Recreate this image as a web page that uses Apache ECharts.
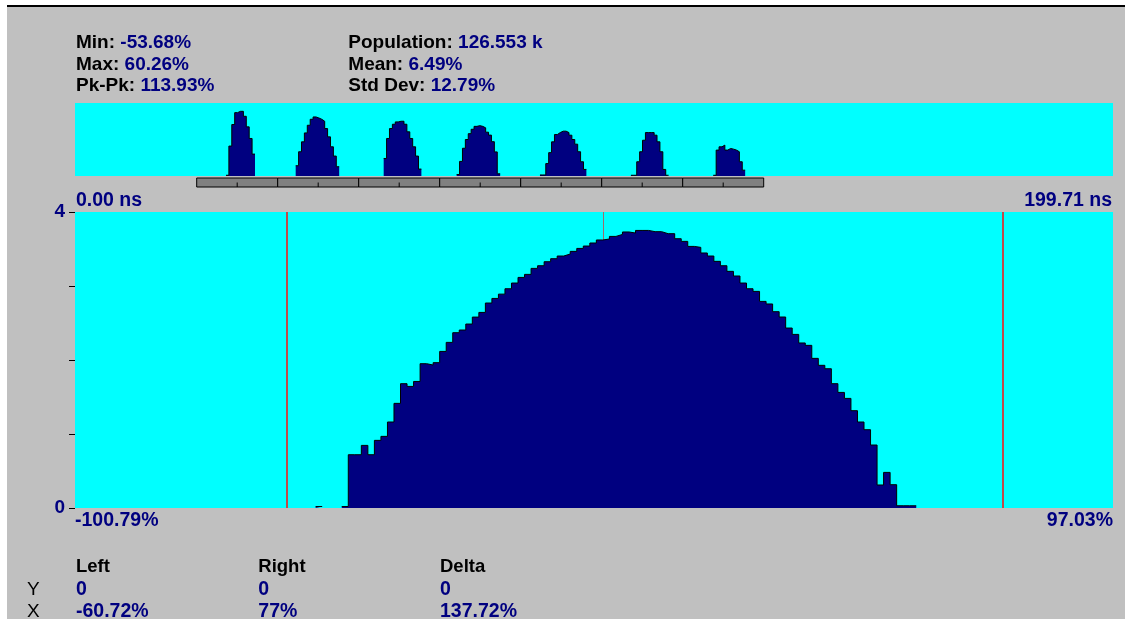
<!DOCTYPE html>
<html><head><meta charset="utf-8">
<script src="https://cdn.jsdelivr.net/npm/echarts@6/dist/echarts.min.js"></script>
<style>html,body{margin:0;padding:0;background:#fff}#c{width:1125px;height:619px}</style>
</head><body><div id="c"></div>
<script>
// ---------- data ----------
// main histogram (x in %, y in counts)
const xMin = -101.55, xMax = 98.16;
const histStart = -55.25;      // left edge of first bin (%)
const histBinWidth = 1.256;    // bin width (%)
const histCounts = [0.02,0,0,0,0.02,
  0.72,0.72,0.846,0.72,0.914,0.968,1.162,1.414,1.68,1.643,
  1.71,1.95,1.932,1.964,2.116,2.238,2.369,2.405,2.486,2.58,
  2.643,2.77,2.832,2.89,2.963,3.04,3.116,3.157,3.238,3.274,
  3.328,3.369,3.405,3.432,3.468,3.508,3.54,3.581,3.622,3.635,
  3.67,3.697,3.73,3.716,3.751,3.751,3.734,3.734,3.707,3.707,
  3.639,3.603,3.535,3.522,3.446,3.405,3.333,3.274,3.198,3.135,
  3.04,2.963,2.927,2.792,2.757,2.653,2.581,2.432,2.346,2.23,
  2.198,2.022,1.928,1.882,1.68,1.562,1.481,1.315,1.162,1.058,
  0.851,0.311,0.481,0.315,0.03,0.03,0.03];
const yTickLabels = ['0','','','','4'];
const cursorLeft = -60.72, cursorRight = 77, zeroMark = 0;

// mini (time) view, x in ns, y normalised
const miniMax = 199.71;
const miniBinWidth = 0.558;
const humpStarts = [29.05, 42.46, 59.39, 73.43, 89.46, 106.96, 122.80];
const hump1 = [0.01,0.41,0.705,0.868,0.886,0.886,0.818,0.673,0.514,0.30];
const hump2 = [0.141,0.332,0.468,0.59,0.695,0.777,0.809,0.795,0.777,0.75,0.65,0.536,0.40,0.273,0.127];
const hump3 = [0.24,0.514,0.65,0.709,0.741,0.75,0.75,0.709,0.605,0.514,0.40,0.273,0.095];
const hump4 = [0.02,0.2,0.38,0.5,0.58,0.64,0.68,0.69,0.68,0.66,0.6,0.56,0.47,0.33,0.03];
const hump5 = [0.014,0.014,0.17,0.32,0.468,0.568,0.595,0.614,0.614,0.595,0.559,0.50,0.436,0.332,0.195,0.09];
const hump6 = [0.01,0.01,0.195,0.332,0.49,0.595,0.595,0.595,0.559,0.468,0.332,0.09,0.01];
const hump7 = [0.01,0.355,0.40,0.423,0.355,0.377,0.368,0.355,0.332,0.195,0.08];
const humps = [hump1,hump2,hump3,hump4,hump5,hump6,hump7];

// text
const statLabelsA = ['Min:', 'Max:', 'Pk-Pk:'];
const statValuesA = ['-53.68%', '60.26%', '113.93%'];
const statLabelsB = ['Population:', 'Mean:', 'Std Dev:'];
const statValuesB = ['126.553 k', '6.49%', '12.79%'];
const timeLabels = ['0.00 ns', '199.71 ns'];
const pctLabels = ['-100.79%', '97.03%'];
const cursorHeads = ['Left', 'Right', 'Delta'];
const cursorRows = ['Y', 'X'];
const cursorY = ['0', '0', '0'];
const cursorX = ['-60.72%', '77%', '137.72%'];

// ---------- build ----------
function stepPoints(start, w, vals, out) {
  vals.forEach((v, i) => {
    if (v > 0) { out.push([start + i * w, v], [start + (i + 1) * w, v]); }
    else out.push([start + i * w, '-']);
  });
  return out;
}
const histPts = stepPoints(histStart, histBinWidth, histCounts, []);
const miniPts = [];
humps.forEach((h, k) => { stepPoints(humpStarts[k], miniBinWidth, h, miniPts); miniPts.push([humpStarts[k] + h.length * miniBinWidth + 0.1, '-']); });

const NAVY = '#000080', CYAN = '#00ffff';
const FF = '"Liberation Sans", Arial, sans-serif';
const graphic = [];
// window frame
graphic.push({type:'rect', shape:{x:0,y:0,width:1125,height:5}, style:{fill:'#fff'}});
graphic.push({type:'rect', shape:{x:0,y:0,width:7,height:619}, style:{fill:'#fff'}});
graphic.push({type:'rect', shape:{x:7,y:5,width:1118,height:2}, style:{fill:'#000'}});
// ruler under mini view
for (let i = 0; i < 7; i++) {
  const x0 = 196.7 + i * 81;
  graphic.push({type:'rect', shape:{x:x0, y:178, width:81, height:9}, style:{fill:'#808080', stroke:'#000', lineWidth:1}});
  graphic.push({type:'line', shape:{x1:x0+40.5, y1:182.5, x2:x0+40.5, y2:187}, style:{stroke:'#000', lineWidth:1}});
}
function txt(x, y, text, opt) {
  graphic.push({type:'text', x, y, style: Object.assign({text, textVerticalAlign:'middle', font:'bold 19px ' + FF, fill: NAVY}, opt || {})});
}
const rich = {k:{fill:'#000', font:'bold 19px ' + FF}, v:{fill:NAVY, font:'bold 19px ' + FF}};
const rowY = [42.5, 64.3, 86];
for (let i = 0; i < 3; i++) {
  txt(76, rowY[i], '{k|' + statLabelsA[i] + ' }{v|' + statValuesA[i] + '}', {rich});
  txt(348.3, rowY[i], '{k|' + statLabelsB[i] + ' }{v|' + statValuesB[i] + '}', {rich});
}
txt(76, 200.5, timeLabels[0], {font:'bold 19.5px ' + FF});
txt(1112, 200.5, timeLabels[1], {font:'bold 19.5px ' + FF, textAlign:'right'});
txt(75, 520.5, pctLabels[0], {font:'bold 19.5px ' + FF});
txt(1113, 520.5, pctLabels[1], {font:'bold 19.5px ' + FF, textAlign:'right'});
const colX = [76, 258.3, 440];
const bRowY = [566.7, 589.3, 611.7];
for (let i = 0; i < 3; i++) {
  txt(colX[i], bRowY[0], cursorHeads[i], {fill:'#000', font:'bold 18.5px ' + FF});
  txt(colX[i], bRowY[1], cursorY[i], {font:'bold 19.5px ' + FF});
  txt(colX[i], bRowY[2], cursorX[i], {font:'bold 19.5px ' + FF});
}
txt(27, bRowY[1], cursorRows[0], {fill:'#000', font:'19px ' + FF});
txt(27, bRowY[2], cursorRows[1], {fill:'#000', font:'19px ' + FF});

const chart = echarts.init(document.getElementById('c'), null, {renderer:'canvas'});
chart.setOption({
  animation: false,
  backgroundColor: '#c0c0c0',
  grid: [
    {left:75, right:12, top:212, height:296, show:true, backgroundColor:CYAN, borderWidth:0},
    {left:75, right:12, top:103, height:73, show:true, backgroundColor:CYAN, borderWidth:0}
  ],
  xAxis: [
    {gridIndex:0, type:'value', min:xMin, max:xMax, show:false},
    {gridIndex:1, type:'value', min:0, max:miniMax, show:false}
  ],
  yAxis: [
    {gridIndex:0, type:'value', min:0, max:4, interval:1, position:'left',
      axisLine:{show:true, onZero:false, lineStyle:{color:'rgba(0,0,0,0)', width:1}}, splitLine:{show:false},
      axisTick:{show:true, inside:false, length:6, lineStyle:{color:'#000', width:1}},
      axisLabel:{show:true, margin:10, color:NAVY, fontWeight:'bold', fontSize:19, fontFamily:FF,
        formatter: v => yTickLabels[Math.round(v)] }},
    {gridIndex:1, type:'value', min:0, max:1, show:false}
  ],
  series: [
    {type:'line', xAxisIndex:0, yAxisIndex:0, data:[], z:1, symbol:'none', showSymbol:false,
      markLine:{silent:true, z:1, symbol:['none','none'], symbolSize:0, label:{show:false},
        data:[
          {xAxis:zeroMark, lineStyle:{color:'#a06a6a', width:1, type:'solid'}},
          {xAxis:cursorLeft, lineStyle:{color:'#c04a4a', width:2, type:'solid'}},
          {xAxis:cursorRight, lineStyle:{color:'#c04a4a', width:2, type:'solid'}}
        ]}},
    {type:'line', xAxisIndex:0, yAxisIndex:0, data:histPts, z:3, symbol:'none', showSymbol:false,
      connectNulls:false, lineStyle:{color:'#000', width:1}, areaStyle:{color:NAVY, opacity:1}},
    {type:'line', xAxisIndex:1, yAxisIndex:1, data:miniPts, z:3, symbol:'none', showSymbol:false,
      connectNulls:false, lineStyle:{color:'#000', width:1}, areaStyle:{color:NAVY, opacity:1}}
  ],
  graphic: graphic
});
</script></body></html>
